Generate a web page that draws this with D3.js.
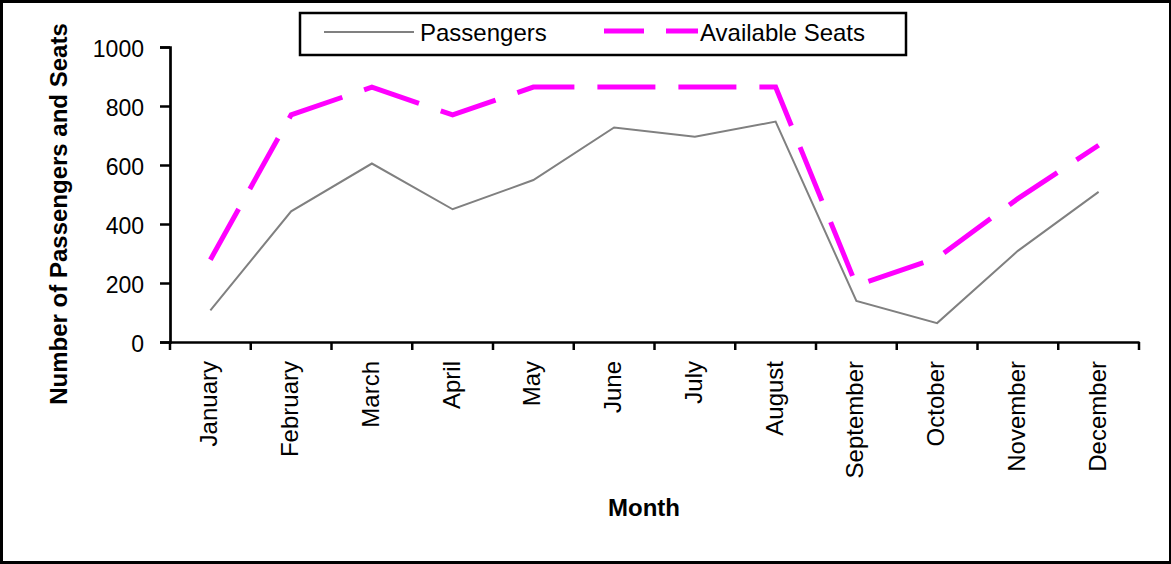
<!DOCTYPE html>
<html>
<head>
<meta charset="utf-8">
<script src="https://cdn.jsdelivr.net/npm/d3@7"></script>
<style>
  html, body { margin: 0; padding: 0; background: #fff; }
  svg { display: block; font-family: "Liberation Sans", Arial, sans-serif; }
</style>
</head>
<body>
<svg id="chart" width="1171" height="564"></svg>
<script>
const months = ["January","February","March","April","May","June","July","August","September","October","November","December"];
const passengers = [107, 443, 605, 450, 549, 727, 696, 747, 139, 64, 309, 509];
const seats = [279, 770, 864, 770, 864, 864, 864, 864, 192, 285, 486, 667];
const yTicks = [0, 200, 400, 600, 800, 1000];
const seriesNames = ["Passengers", "Available Seats"];

(function () {
const svg = d3.select("#chart");
const pLeft = 170, pRight = 1139, pTop = 47, pBottom = 342;

// outer border
svg.append("rect").attr("x", 1.5).attr("y", 1.5).attr("width", 1169).attr("height", 561)
  .attr("fill", "#fff").attr("stroke", "#000").attr("stroke-width", 3);

const x = d3.scaleBand().domain(months).range([pLeft, pRight]).padding(0);
const y = d3.scaleLinear().domain([0, 1000]).range([pBottom, pTop]);
const cx = m => x(m) + x.bandwidth() / 2;

// Y axis
const yAxis = svg.append("g").attr("transform", `translate(${pLeft},0)`)
  .call(d3.axisLeft(y).tickValues(yTicks).tickSize(10).tickPadding(16).tickFormat(d3.format("d")));
yAxis.select(".domain").attr("stroke", "#000").attr("stroke-width", 2.7);
yAxis.selectAll(".tick line").attr("stroke", "#000").attr("stroke-width", 2.5);
yAxis.selectAll(".tick text").attr("font-size", 23).attr("font-family", "Liberation Sans, Arial, sans-serif")
  .attr("fill", "#000").attr("dy", "0.4em");

// X axis
const xAxis = svg.append("g").attr("transform", `translate(0,${pBottom})`)
  .call(d3.axisBottom(x).tickSize(0).tickPadding(0));
xAxis.select(".domain").attr("stroke", "#000").attr("stroke-width", 2.7);
xAxis.selectAll(".tick text")
  .attr("font-size", 24).attr("font-family", "Liberation Sans, Arial, sans-serif").attr("fill", "#000")
  .attr("text-anchor", "end")
  .attr("transform", "translate(7,19) rotate(-90)")
  .attr("x", 0).attr("y", 0).attr("dy", 0);
// boundary ticks
const bounds = months.map(m => x(m)).concat([x.range()[1]]);
svg.append("g").selectAll("line").data(bounds).join("line")
  .attr("x1", d => d).attr("x2", d => d)
  .attr("y1", pBottom).attr("y2", pBottom + 8)
  .attr("stroke", "#000").attr("stroke-width", 2.5);

// axis titles
svg.append("text").attr("transform", `translate(67,214) rotate(-90)`)
  .attr("text-anchor", "middle").attr("font-size", 24).attr("font-weight", "bold")
  .attr("fill", "#000").text("Number of Passengers and Seats");
svg.append("text").attr("x", 644).attr("y", 516)
  .attr("text-anchor", "middle").attr("font-size", 24).attr("font-weight", "bold")
  .attr("fill", "#000").text("Month");

// lines
const line = d3.line().x((d, i) => cx(months[i])).y(d => y(d));
svg.append("path").datum(passengers).attr("d", line)
  .attr("fill", "none").attr("stroke", "#808080").attr("stroke-width", 2).attr("stroke-linejoin", "miter");
svg.append("path").datum(seats).attr("d", line)
  .attr("fill", "none").attr("stroke", "#ff00ff").attr("stroke-width", 5)
  .attr("stroke-dasharray", "58,23").attr("stroke-linejoin", "miter");

// legend
const lg = svg.append("g");
lg.append("rect").attr("x", 300).attr("y", 13).attr("width", 606).attr("height", 42)
  .attr("fill", "#fff").attr("stroke", "#000").attr("stroke-width", 2.5);
lg.append("line").attr("x1", 324).attr("x2", 414).attr("y1", 32).attr("y2", 32)
  .attr("stroke", "#808080").attr("stroke-width", 2);
lg.append("text").attr("x", 420).attr("y", 41).attr("font-size", 24).attr("fill", "#000").text(seriesNames[0]);
lg.append("line").attr("x1", 604).attr("x2", 698).attr("y1", 31).attr("y2", 31)
  .attr("stroke", "#ff00ff").attr("stroke-width", 5).attr("stroke-dasharray", "40,22");
lg.append("text").attr("x", 700).attr("y", 41).attr("font-size", 24).attr("fill", "#000").text(seriesNames[1]);
})();
</script>
</body>
</html>
